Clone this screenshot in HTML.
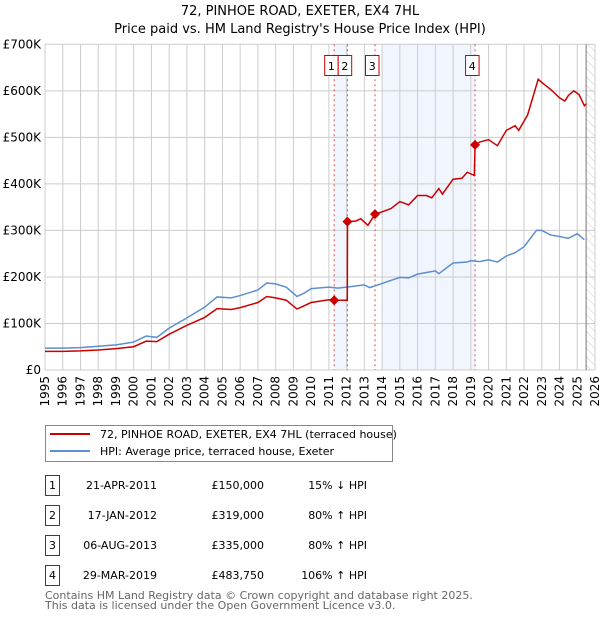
<!DOCTYPE html>
<html><head><meta charset="utf-8"><style>
body{margin:0;background:#fff;width:600px;height:620px;overflow:hidden;font-family:"DejaVu Sans","Liberation Sans",sans-serif}
</style></head><body>
<svg id="c" width="600" height="620" xmlns="http://www.w3.org/2000/svg" style="font-family:'DejaVu Sans','Liberation Sans',sans-serif">
<text x="300" y="15" text-anchor="middle" font-size="13">72, PINHOE ROAD, EXETER, EX4 7HL</text>
<text x="300" y="33" text-anchor="middle" font-size="13">Price paid vs. HM Land Registry's House Price Index (HPI)</text>
<defs><pattern id="hatch" width="6" height="6" patternUnits="userSpaceOnUse" patternTransform="rotate(-45)"><line x1="0" y1="0" x2="0" y2="6" stroke="#ccc" stroke-width="1"/></pattern></defs>
<g id="plot"></g>
<g>
<rect x="45.5" y="425.5" width="347" height="36" fill="#fff" stroke="#888"/>
<line x1="50" y1="434" x2="90" y2="434" stroke="#cc0000" stroke-width="2"/>
<text x="100" y="438" font-size="11">72, PINHOE ROAD, EXETER, EX4 7HL (terraced house)</text>
<line x1="50" y1="451" x2="90" y2="451" stroke="#5b8fd0" stroke-width="2"/>
<text x="100" y="455" font-size="11">HPI: Average price, terraced house, Exeter</text>
</g>
<g id="table" font-size="11"></g>
<text x="45" y="599" font-size="11" fill="#666">Contains HM Land Registry data © Crown copyright and database right 2025.</text>
<text x="45" y="609" font-size="11" fill="#666">This data is licensed under the Open Government Licence v3.0.</text>
</svg>
<script>
const hpiYears=[1995,1996,1997,1998,1999,2000,2000.7,2001.3,2002,2003,2004,2004.7,2005.5,2006,2007,2007.5,2008,2008.6,2009.2,2009.6,2010,2011,2011.5,2012,2013,2013.3,2014,2015,2015.5,2016,2017,2017.2,2018,2018.8,2019,2019.5,2020,2020.5,2021,2021.5,2022,2022.7,2023,2023.5,2024,2024.5,2025,2025.4];
const hpiValues=[47,47,48,51,54,60,73,70,90,112,135,157,155,160,172,187,185,178,158,165,175,178,176,178,183,177,186,199,198,206,213,207,230,232,235,233,237,232,245,252,265,300,300,290,287,283,293,280];
const priceYears=[1995,1996,1997,1998,1999,2000,2000.7,2001.3,2002,2003,2004,2004.7,2005.5,2006,2007,2007.5,2008,2008.6,2009.2,2009.6,2010,2011,2011.3,2012.04,2012.05,2012.5,2012.8,2013.2,2013.6,2014,2014.5,2015,2015.5,2016,2016.5,2016.8,2017.2,2017.4,2018,2018.5,2018.8,2019.2,2019.24,2019.5,2020,2020.5,2021,2021.5,2021.7,2022.2,2022.8,2023,2023.5,2024,2024.3,2024.5,2024.8,2025.1,2025.4,2025.5];
const priceValues=[40,40,41,43,46,50,62,61,77,96,113,132,130,134,145,158,155,150,131,138,145,151,150,150,319,320,325,311,335,340,347,362,355,375,375,370,390,378,410,412,425,418,483.75,490,495,482,515,525,515,548,625,618,603,585,578,590,600,592,568,572];
const saleLabels=["1","2","3","4"];
const saleYears=[2011.3,2012.045,2013.6,2019.24];
const saleValues=[150,319,335,483.75];
const saleDates=["21-APR-2011","17-JAN-2012","06-AUG-2013","29-MAR-2019"];
const salePrices=["£150,000","£319,000","£335,000","£483,750"];
const saleHpi=["15% ↓ HPI","80% ↑ HPI","80% ↑ HPI","106% ↑ HPI"];
const yTicks=[0,100,200,300,400,500,600,700];
const yTickLabels=["£0","£100K","£200K","£300K","£400K","£500K","£600K","£700K"];

const X0=45,X1=595,Y0=370,Y1=44.3;
const x=yr=>X0+(yr-1995)*(X1-X0)/31;
const y=v=>Y0-v*(Y0-Y1)/700;
const NS="http://www.w3.org/2000/svg";
const plot=document.getElementById('plot');
function mk(tag,attrs,parent){const e=document.createElementNS(NS,tag);for(const k in attrs)e.setAttribute(k,attrs[k]);(parent||plot).appendChild(e);return e;}

let e;
e=mk('rect',{x:x(saleYears[0]),y:Y1,width:x(saleYears[1])-x(saleYears[0]),height:Y0-Y1,fill:'#eef3fc',opacity:0.8});


e=mk('rect',{x:x(2013.97),y:Y1,width:x(saleYears[3])-x(2013.97),height:Y0-Y1,fill:'#eef3fc',opacity:0.8});


e=mk('rect',{x:x(2025.5),y:Y1,width:X1-x(2025.5),height:Y0-Y1,fill:'url(#hatch)'});



for(let yr=1995;yr<=2026;yr++){
  e=mk('line',{x1:x(yr),x2:x(yr),y1:Y1,y2:Y0,stroke:'#ccc','stroke-width':1});
  
  
  e=mk('text',{transform:`translate(${x(yr)+4},${Y0+6}) rotate(-90)`,'text-anchor':'end','font-size':12});
  e.textContent=yr;
  
  
}
yTicks.forEach((v,i)=>{
  e=mk('line',{x1:X0,x2:X1,y1:y(v),y2:y(v),stroke:'#ccc','stroke-width':1});
  
  
  e=mk('text',{x:X0-4,y:y(v)+4,'text-anchor':'end','font-size':12});
  e.textContent=yTickLabels[i];
  
  
});
e=mk('line',{x1:x(2025.5),x2:x(2025.5),y1:Y1,y2:Y0,stroke:'#777','stroke-width':1});



saleYears.forEach((yr,i)=>{
  e=mk('line',{x1:x(yr),x2:x(yr),y1:Y1,y2:Y0,stroke:'#e05050','stroke-width':1,'stroke-dasharray':'2,3'});
  
  
});

e=mk('polyline',{points:hpiYears.map((t,i)=>x(t)+','+y(hpiValues[i])).join(' '),fill:'none',stroke:'#5b8fd0','stroke-width':1.5});


e=mk('polyline',{points:priceYears.map((t,i)=>x(t)+','+y(priceValues[i])).join(' '),fill:'none',stroke:'#cc0000','stroke-width':1.5});



let prevRight=-100;
saleYears.forEach((yr,i)=>{
  const cx=x(yr),cy=y(saleValues[i]);
  e=mk('polygon',{points:`${cx},${cy-5} ${cx+5},${cy} ${cx},${cy+5} ${cx-5},${cy}`,fill:'#cc0000'});
  
  
  let bx=cx-10;
  if(bx<prevRight) bx=prevRight;
  prevRight=bx+13.5;
  e=mk('rect',{x:bx+0.5,y:55.5,width:13.5,height:20,fill:'#fff',stroke:'#cc0000'});
  
  
  e=mk('text',{x:bx+7.2,y:70,'text-anchor':'middle','font-size':11});
  e.textContent=saleLabels[i];
  
  
});

const tbl=document.getElementById('table');
saleLabels.forEach((l,i)=>{
  const ty=476+i*30;
  e=mk('rect',{x:45.5,y:ty-0.5,width:14,height:20,fill:'#fff',stroke:'#cc0000'},tbl);
  
  
  e=mk('text',{x:52.5,y:ty+13,'text-anchor':'middle'},tbl);e.textContent=l;
  
  
  e=mk('text',{x:157,y:ty+13,'text-anchor':'end'},tbl);e.textContent=saleDates[i];
  
  
  e=mk('text',{x:264,y:ty+13,'text-anchor':'end'},tbl);e.textContent=salePrices[i];
  
  
  e=mk('text',{x:367,y:ty+13,'text-anchor':'end'},tbl);e.textContent=saleHpi[i];
  
  
});
</script>
</body></html>
